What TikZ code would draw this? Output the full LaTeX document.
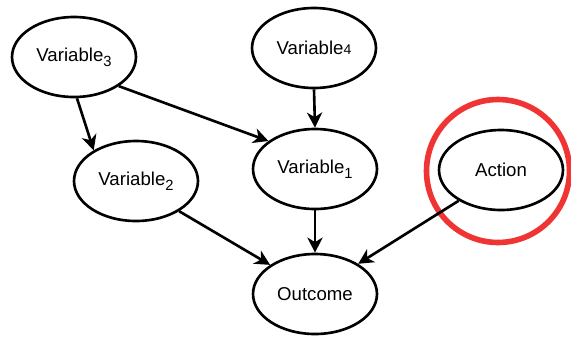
\documentclass[tikz,border=0pt]{standalone}
\usepackage{fontspec}
\setmainfont{Liberation Sans}
\usetikzlibrary{shapes.geometric,arrows.meta}
\definecolor{ringred}{RGB}{240,52,52}
\newcommand{\lowsub}[1]{\raisebox{-0.25em}{\fontsize{8.4}{9}\selectfont #1}}

\begin{document}
\begin{tikzpicture}[x=0.02cm,y=-0.02cm,
			var/.style={ellipse,draw,line width=1.5pt,minimum width=2.48cm,minimum height=1.6cm,inner sep=0pt,font=\fontsize{10.6}{12}\selectfont},
			edge/.style={line width=1.5pt,-{Stealth[length=8.6pt,width=8.6pt,inset=2.6pt]}}]
			\useasboundingbox (0,0) rectangle (571,339);
			\node[var] (V3) at (74,57) {Variable\lowsub{3}};
			\node[var] (V4) at (314,48) {Variable{\fontsize{8}{9}\selectfont 4}};
			\node[var] (V2) at (136,181) {Variable\lowsub{2}};
			\node[var] (V1) at (315,169) {Variable\lowsub{1}};
			\node[var] (A) at (501,170) {Action};
			\node[var] (O) at (315,294) {Outcome};
			\draw[ringred,line width=3.2pt] (A.center) ++(-3,1) circle[radius=1.43cm];
			\draw[edge] (V3.south) ++(3,0) -- (V2.144);
			\draw[edge] (V3.-33) -- (V1.149);
			\draw[edge] (V4.south) -- (V1.north);
			\draw[edge] (V2.-35) -- (O.147);
			\draw[edge] (V1.south) -- (O.north);
			\draw[edge] (A.216) -- (O.35);
		\end{tikzpicture}
\end{document}
